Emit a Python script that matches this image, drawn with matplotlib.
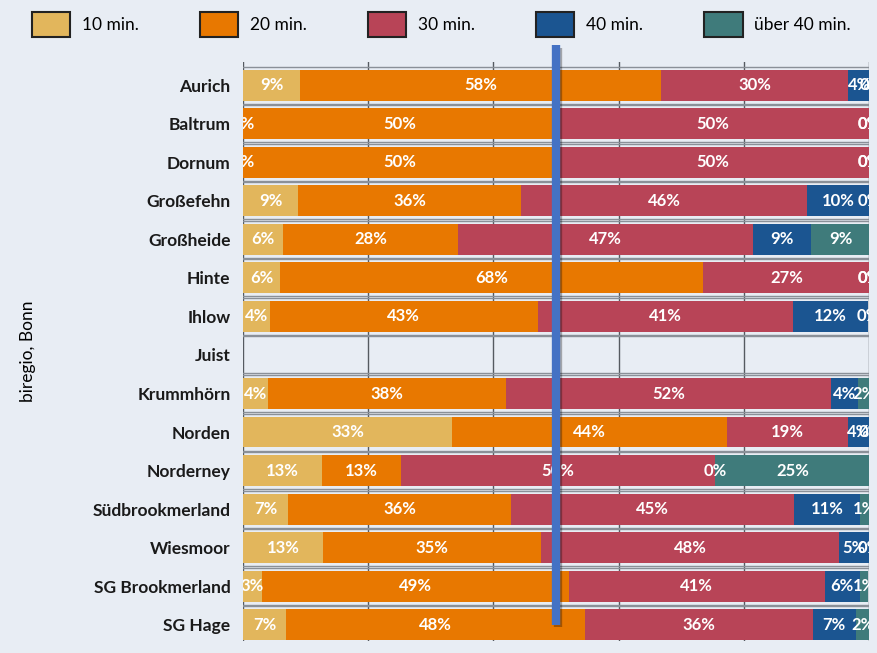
import numpy as np
import matplotlib
matplotlib.use("Agg")
import matplotlib.pyplot as plt
import matplotlib.patheffects as pe
from matplotlib.patches import Patch

categories = ["Aurich", "Baltrum", "Dornum", "Großefehn", "Großheide", "Hinte", "Ihlow",
              "Juist", "Krummhörn", "Norden", "Norderney", "Südbrookmerland", "Wiesmoor",
              "SG Brookmerland", "SG Hage"]
series_names = ["10 min.", "20 min.", "30 min.", "40 min.", "über 40 min."]
nan = np.nan
v10 = [9.1, 0, 0, 8.8, 6.4, 5.9, 4.3, nan, 4.0, 33.4, 12.6, 7.2, 12.8, 3.0, 6.9]
v20 = [57.7, 50, 50, 35.6, 28.0, 67.6, 42.8, nan, 38.0, 43.9, 12.6, 35.6, 34.8, 49.0, 47.8]
v30 = [29.9, 50, 50, 45.7, 47.0, 26.6, 40.7, nan, 52.0, 19.3, 50.2, 45.2, 47.6, 40.9, 36.3]
v40 = [3.6, 0, 0, 9.9, 9.4, 0, 12.1, nan, 4.2, 3.6, 0, 10.6, 4.8, 5.6, 6.9]
v50 = [0, 0, 0, 0, 9.3, 0, 0, nan, 1.9, 0, 24.9, 1.4, 0, 1.4, 2.2]
colors = ["#E2B65C", "#E87800", "#B84457", "#1B5591", "#3F7B7B"]
bg = "#E8EDF4"

series = [v10, v20, v30, v40, v50]

plt.rcParams['font.family'] = ['Lato', 'DejaVu Sans']
fig = plt.figure(figsize=(8.77, 6.53), dpi=100, facecolor=bg)
ax = fig.add_axes([243/877, 1-641/653, (869-243)/877, (641-62)/653])
ax.set_facecolor(bg)

y = np.arange(len(categories))
ax.set_xlim(0, 100)
ax.set_ylim(14.42, -0.6)

# grid
for gx in [0, 20, 40, 60, 80, 100]:
    ax.axvline(gx, color="#555a60", lw=1.0, zorder=0)
for yi in y:
    for d in (-0.48, 0.48):
        ax.axhline(yi + d, color="#8a9098", lw=1.0, zorder=0.5)

left = np.zeros(len(categories))
for name, vals, col in zip(series_names, series, colors):
    vals = np.array(vals, dtype=float)
    ax.barh(y, np.nan_to_num(vals), left=left, height=0.8, color=col, label=name,
            edgecolor="none", zorder=2)
    for yi, l, v in zip(y, left, vals):
        if np.isnan(v):
            continue
        ax.text(l + v/2, yi, f"{v:.0f}%", ha="center", va="center", color="white",
                fontsize=12, fontweight="bold", zorder=3, clip_on=True)
    left = left + np.nan_to_num(vals)

# reference line at 50 %
ax.plot([50, 50], [-1.03, 14.0], color="#4472C4", lw=6, solid_capstyle="butt",
        clip_on=False, zorder=5,
        path_effects=[pe.SimpleLineShadow(offset=(1.5, -1.5), alpha=0.3), pe.Normal()])

ax.set_yticks(y)
ax.set_yticklabels(categories, fontsize=12.5, fontweight="bold", color="#1a1a1a")
ax.tick_params(axis="y", length=0, pad=9)
ax.set_xticks([])
for s in ax.spines.values():
    s.set_visible(False)
ax.set_ylabel("biregio, Bonn", fontsize=12.5, labelpad=0)
ax.yaxis.set_label_coords(-0.33, 0.5)

handles = [Patch(facecolor=c, edgecolor="#222222", lw=1.5) for c in colors]
fig.legend(handles, series_names, loc="upper left", bbox_to_anchor=(20/877, 1.0),
           ncol=5, frameon=False, fontsize=12.5, handlelength=2.2, handleheight=1.85,
           columnspacing=3.55, handletextpad=0.65, borderaxespad=0.3)

fig.savefig("out.png", dpi=100, facecolor=bg)
